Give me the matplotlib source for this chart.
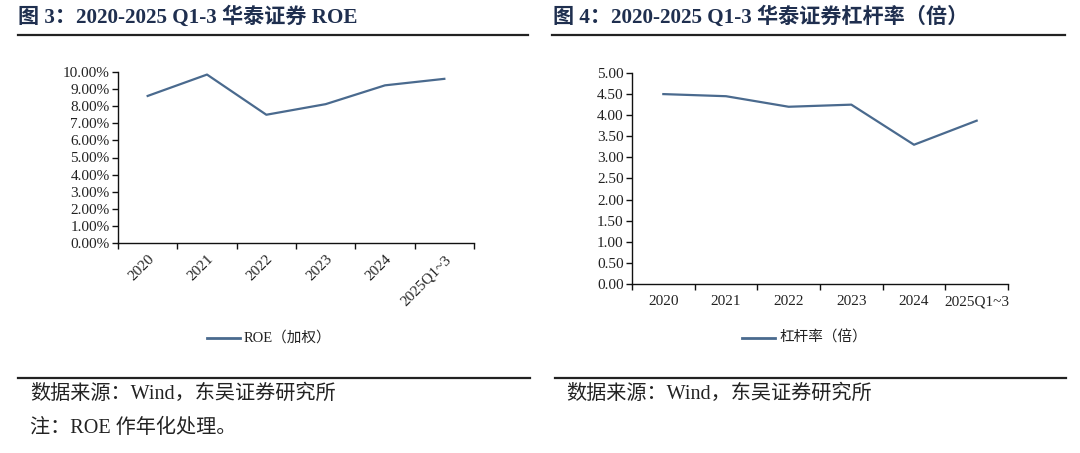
import matplotlib
matplotlib.use("Agg")
import matplotlib.pyplot as plt
from matplotlib.lines import Line2D
from matplotlib.ticker import FixedLocator, FuncFormatter

categories = ["2020", "2021", "2022", "2023", "2024", "2025Q1~3"]
roe = [8.60, 9.85, 7.50, 8.12, 9.22, 9.60]
leverage = [4.50, 4.45, 4.20, 4.25, 3.30, 3.87]

W, H = 1080, 453
fig = plt.figure(figsize=(W / 100, H / 100), dpi=100)
fig.patch.set_facecolor("white")

FAM = ["Liberation Serif", "Noto Sans CJK SC"]
TITLE_C = "#1f2f4f"
LINE_C = "#4a6a8e"

def px_axes(x0, x1, ytop, ybot):
    return fig.add_axes([x0 / W, (H - ybot) / H, (x1 - x0) / W, (ybot - ytop) / H])

def hline(x0, x1, y, lw=1.6):
    fig.add_artist(Line2D([x0 / W, x1 / W], [(H - y) / H, (H - y) / H], color="#222222", lw=lw,
                          transform=fig.transFigure))

def ftext(x, y, s, size, **kw):
    fig.text(x / W, (H - y) / H, s, fontsize=size, family=FAM, va="center", **kw)

# Titles
ftext(18, 17, "图 3：2020-2025 Q1-3 华泰证券 ROE", 15.2, color=TITLE_C, fontweight="bold")
ftext(553, 17, "图 4：2020-2025 Q1-3 华泰证券杠杆率（倍）", 15.2, color=TITLE_C, fontweight="bold")
hline(18, 528, 35)
hline(552, 1065, 35)
hline(18, 530, 378)
hline(555, 1066, 378)

ftext(30, 394, "数据来源：Wind，东吴证券研究所", 14.5, color="#222222")
ftext(30, 428, "注：ROE 作年化处理。", 14.5, color="#222222")
ftext(566, 394, "数据来源：Wind，东吴证券研究所", 14.5, color="#222222")

def style_axes(ax, rot):
    for s in ["top", "right"]:
        ax.spines[s].set_visible(False)
    for s in ["left", "bottom"]:
        ax.spines[s].set_color("#111111")
        ax.spines[s].set_linewidth(1.0)
    n = len(categories)
    ax.set_xlim(-0.5, n - 0.5)
    ax.xaxis.set_major_locator(FixedLocator([i - 0.5 for i in range(n + 1)]))
    ax.xaxis.set_major_formatter(FuncFormatter(lambda v, p: ""))
    ax.xaxis.set_minor_locator(FixedLocator(list(range(n))))
    ax.xaxis.set_minor_formatter(FuncFormatter(lambda v, p: categories[int(round(v))]))
    ax.tick_params(axis="x", which="major", length=4, width=1.0, color="#111111", direction="out")
    ax.tick_params(axis="x", which="minor", length=0, pad=7 if rot else 8)
    ax.tick_params(axis="y", length=4, width=1.0, color="#111111", direction="out", pad=2)
    for lab in ax.get_xticklabels(minor=True) + ax.get_yticklabels():
        lab.set_family(FAM)
        lab.set_fontsize(11)
        lab.set_color("#222222")
    if rot:
        for lab in ax.get_xticklabels(minor=True):
            lab.set_rotation(45)
            lab.set_ha("right")
            lab.set_rotation_mode("anchor")

# Left chart
ax1 = px_axes(118, 474, 72, 243)
ax1.plot(range(len(categories)), roe, color=LINE_C, lw=1.6)
ax1.set_ylim(0, 10)
ax1.set_yticks([i for i in range(11)])
ax1.yaxis.set_major_formatter(FuncFormatter(lambda v, p: f"{v:.2f}%"))
style_axes(ax1, True)

# Right chart
ax2 = px_axes(632, 1008, 73, 284)
ax2.plot(range(len(categories)), leverage, color=LINE_C, lw=1.6)
ax2.set_ylim(0, 5)
ax2.set_yticks([i * 0.5 for i in range(11)])
ax2.yaxis.set_major_formatter(FuncFormatter(lambda v, p: f"{v:.2f}"))
style_axes(ax2, False)

# Legends
def legend(x0, x1, y, label):
    fig.add_artist(Line2D([x0 / W, x1 / W], [(H - y) / H, (H - y) / H], color=LINE_C, lw=2,
                          transform=fig.transFigure))
    ftext(x1 + 4, y, label, 10.5, color="#222222")

legend(207, 240, 338, "ROE（加权）")
legend(742, 775, 338, "杠杆率（倍）")

fig.savefig("out.png", dpi=100, facecolor="white")
